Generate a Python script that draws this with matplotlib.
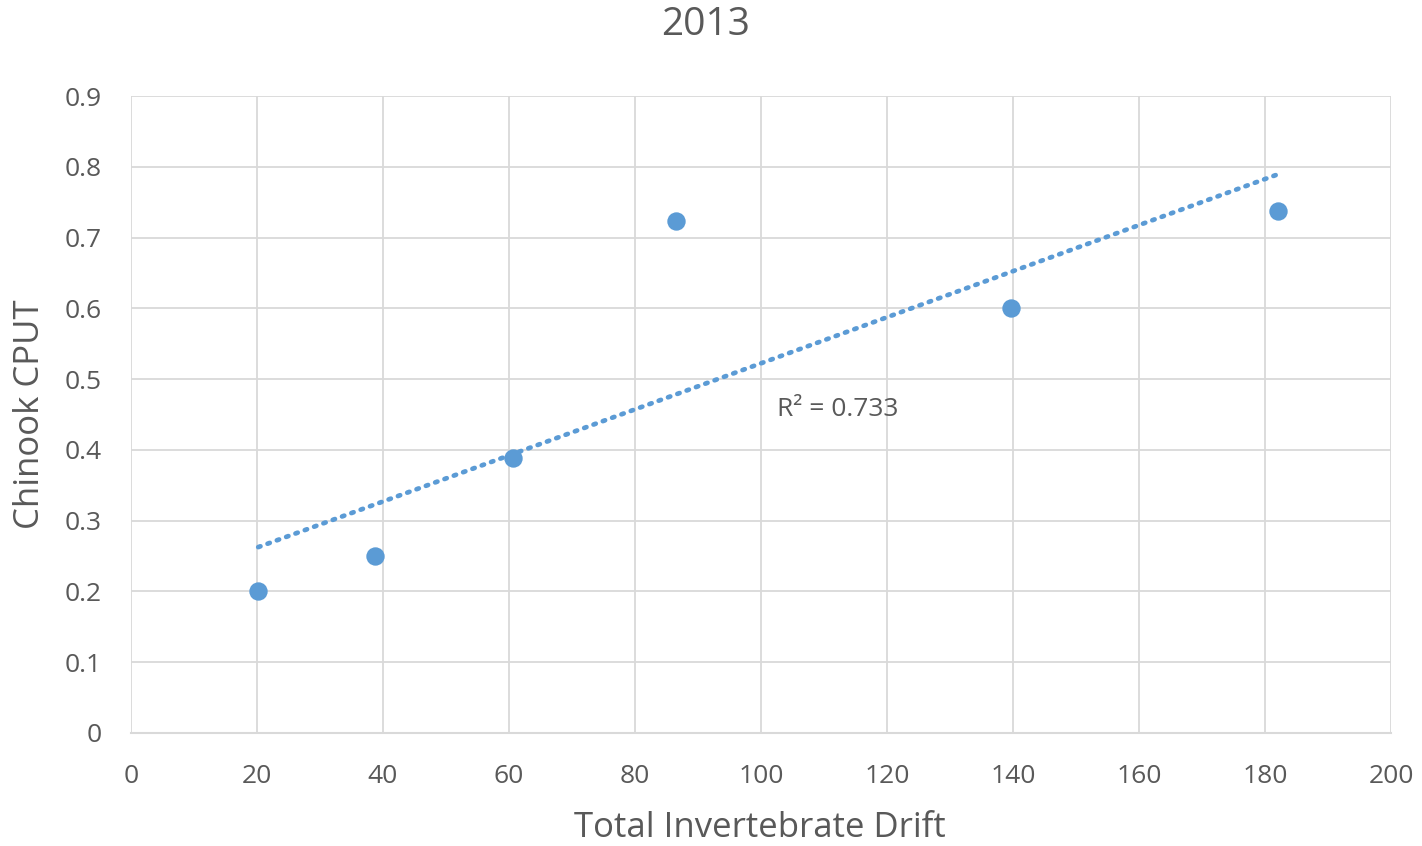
import numpy as np
import matplotlib.pyplot as plt

# data
drift = [20.2, 38.7, 60.6, 86.5, 139.7, 182.1]
cput = [0.20, 0.25, 0.389, 0.723, 0.600, 0.737]
r2_label = "R² = 0.733"

blue = '#5B9BD5'
text_grey = '#595959'
grid_grey = '#D9D9D9'

plt.rcParams['font.family'] = ['Open Sans', 'DejaVu Sans']

fig = plt.figure(figsize=(14.22, 8.46), dpi=100)
ax = fig.add_axes([0.0921, 0.1336, 0.8861, 0.7529])

ax.scatter(drift, cput, s=175, color=blue, zorder=3, linewidths=0)

# linear trendline over the data range
coef = np.polyfit(drift, cput, 1)
xs = np.array([min(drift), max(drift)])
ax.plot(xs, np.polyval(coef, xs), linestyle=(0, (0.5, 1.6)), color=blue,
        linewidth=3.4, dash_capstyle='round', zorder=2)

ax.text(102.5, 0.457, r2_label, fontsize=19, color=text_grey, va='center', ha='left')

ax.set_xlim(0, 200)
ax.set_ylim(0, 0.9)
ax.set_xticks(range(0, 201, 20))
ax.set_yticks(np.arange(0, 0.91, 0.1))
ax.set_yticklabels(['0', '0.1', '0.2', '0.3', '0.4', '0.5', '0.6', '0.7', '0.8', '0.9'])

ax.grid(True, color=grid_grey, linewidth=1.3)
ax.set_axisbelow(True)
for side in ['top', 'right', 'left']:
    ax.spines[side].set_visible(False)
ax.spines['bottom'].set_color(grid_grey)
ax.spines['bottom'].set_linewidth(1.5)
ax.tick_params(axis='x', length=0, labelsize=19, colors=text_grey, pad=22)
ax.tick_params(axis='y', length=0, labelsize=19, colors=text_grey, pad=21)

fig.text(760 / 1422, 1 - 828 / 846, 'Total Invertebrate Drift', fontsize=25,
         color=text_grey, ha='center', va='center')
fig.text(30 / 1422, 1 - 414 / 846, 'Chinook CPUT', fontsize=25, rotation=90,
         color=text_grey, ha='center', va='center')
fig.text(0.4965, 0.97, '2013', fontsize=28, color=text_grey, ha='center', va='center')

fig.savefig('out.png', dpi=100)
